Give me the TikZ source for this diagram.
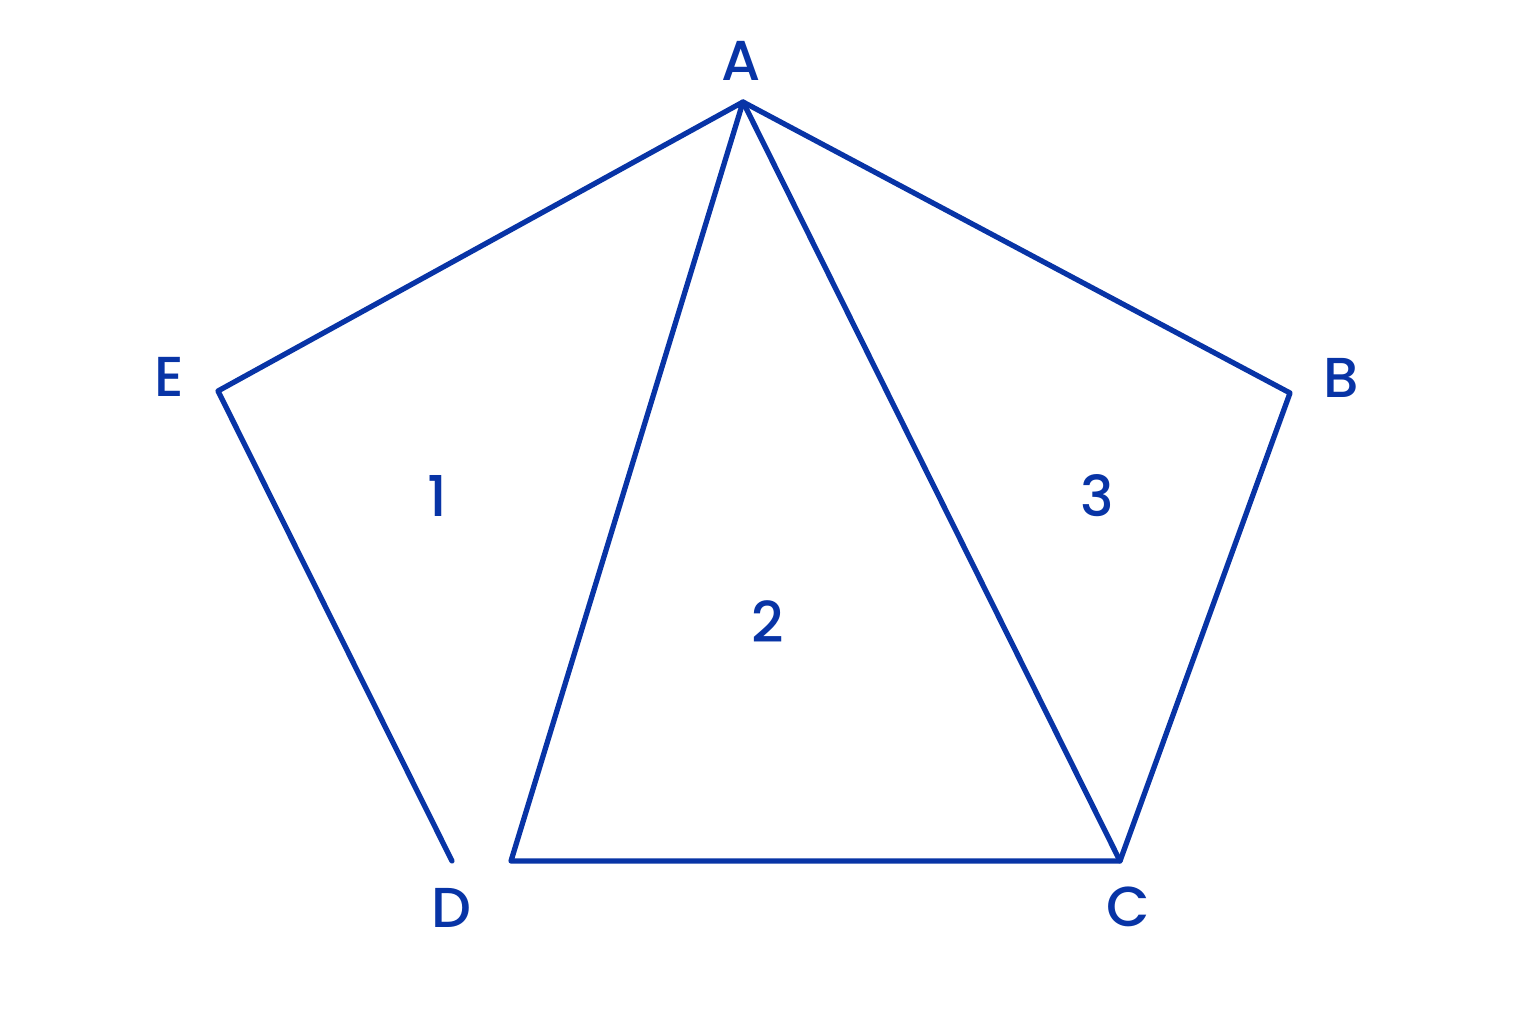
\documentclass[tikz,border=0pt]{standalone}
\usepackage{fontspec}
\setmainfont{Poppins}[UprightFont=* Medium]
\definecolor{penblue}{RGB}{8,52,166}
\tikzset{
  edge/.style={draw=penblue, line width=1.5pt, line cap=round, line join=round},
  vlabel/.style={text=penblue, font=\fontsize{16}{18}\selectfont},
}
\begin{document}
\begin{tikzpicture}[x=0.01cm,y=0.01cm]
            \useasboundingbox (0,0) rectangle (1536,1024);
            % Vertices
            \coordinate (A) at (743,922);
            \coordinate (B) at (1290,631);
            \coordinate (C) at (1120,163);
            \coordinate (Dl) at (452,163);
            \coordinate (Dr) at (511,163);
            \coordinate (E) at (218,633);
            % Edges
            \draw [edge] (Dl) -- (E) -- (A) -- (B) -- (C) -- (Dr) -- (A);
            \draw [edge] (A) -- (C);
            % Labels
            \node [vlabel] (lA) at (741,963) {A};
            \node [vlabel] (lB) at (1341,646) {B};
            \node [vlabel] (lC) at (1128,117) {C};
            \node [vlabel] (lD) at (451,116) {D};
            \node [vlabel] (lE) at (169,647) {E};
            \node [vlabel] (n1) at (437,528) {1};
            \node [vlabel] (n2) at (768,402) {2};
            \node [vlabel] (n3) at (1097,528) {3};
        \end{tikzpicture}
\end{document}
